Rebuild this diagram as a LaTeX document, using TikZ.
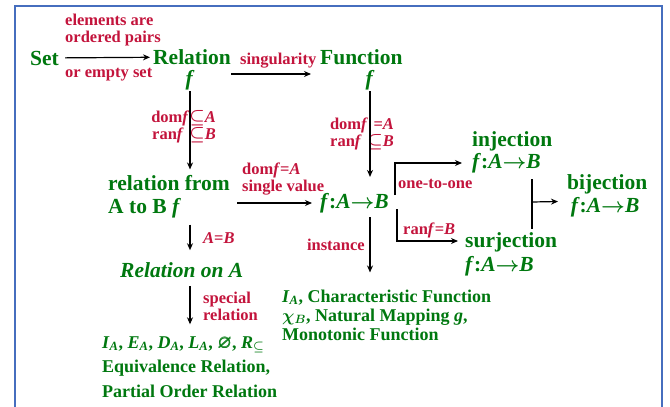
\documentclass[tikz,border=0pt]{standalone}
\usepackage{amsmath,amssymb,bm}
\usepackage{fontspec}
\setmainfont{Liberation Serif}[BoldFont={Liberation Serif Bold}, ItalicFont={Liberation Serif Italic}, BoldItalicFont={Liberation Serif Bold Italic}]
\usetikzlibrary{arrows.meta,positioning,calc}
\definecolor{grn}{RGB}{0,120,15}
\definecolor{rd}{RGB}{195,20,60}
\definecolor{frm}{RGB}{70,110,190}
\newcommand{\fv}{\textit{f}}
\newcommand{\fAB}{\textit{f}:\textit{A}$\bm{\rightarrow}$\textit{B}}
\begin{document}
\begin{tikzpicture}[x=1pt,y=-1pt,
	grn/.style={text=grn, inner sep=0pt, font=\fontsize{21.5}{23}\selectfont\bfseries},
	grnsm/.style={text=grn, inner sep=0pt, font=\fontsize{18}{19}\selectfont\bfseries},
	rd/.style={text=rd, inner sep=0pt, font=\fontsize{16.5}{17}\selectfont\bfseries},
	arr/.style={-{Stealth[length=7pt,width=6pt]}, line width=1.2pt}]
	\useasboundingbox (0,0) rectangle (670,407);
	% Frame
	\draw[frm, line width=1.6pt] (15,6) rectangle (662,425);
	
	% Top row
	\node[grn, anchor=west] (set) at (30,58) {Set};
	\node[rd, anchor=west, align=left] (elem) at (65,30) {elements are\\ordered pairs};
	\node[rd, anchor=west] (empty) at (65,75) {or empty set};
	\node[grn, anchor=west] (rel) at (153,57) {Relation};
	\node[grn] (relf) at (190,80) {\fv};
	\node[rd, anchor=west] (sing) at (240,61) {singularity};
	\node[grn, anchor=west] (fun) at (320,57) {Function};
	\node[grn] (funf) at (370,80) {\fv};
	
	% Middle row
	\node[rd, anchor=east, align=right] (relcond) at (216,127) {dom\fv$\bm{\subseteq}$\textit{A}\\ran\fv\,\,$\bm{\subseteq}$\textit{B}};
	\node[rd, align=center] (funcond) at (362,134) {dom\fv\,\,=\textit{A}\\ran\fv\,\,$\bm{\subseteq}$\textit{B}};
	\node[grn, anchor=west, align=left] (relfrom) at (108,197) {relation from\\A to B \fv};
	\node[rd, anchor=west, align=left] (single) at (242,179) {dom\fv=\textit{A}\\single value};
	\node[grn, anchor=west] (funab) at (320,203) {\fAB};
	\node[grn, anchor=west, align=left, font=\fontsize{21.5}{22}\selectfont\bfseries] (inj) at (472,152) {injection\\\fAB};
	\node[grn, anchor=west, align=left, font=\fontsize{21.5}{24}\selectfont\bfseries] (surj) at (465,254) {surjection\\\fAB};
	\node[grn, anchor=west, align=left] (bij) at (567,196) {bijection\\\,\fAB};
	\node[rd, anchor=west] (oto) at (398,184) {one-to-one};
	\node[rd, anchor=west] (ranb) at (403,230) {ran\fv=\textit{B}};
	\node[rd, anchor=east] (inst) at (365,245) {instance};
	
	% Lower rows
	\node[rd, anchor=west] (aeqb) at (203,238) {\textit{A}=\textit{B}};
	\node[grn, anchor=west] (relon) at (120,270) {\textit{Relation on A}};
	\node[rd, anchor=west, align=left] (spec) at (203,306) {special\\relation};
	\node[grnsm, anchor=west, align=left, font=\fontsize{18}{24.5}\selectfont\bfseries] (rellist) at (102,367)
		{\textit{I}\textsubscript{\textit{A}}, \textit{E}\textsubscript{\textit{A}}, \textit{D}\textsubscript{\textit{A}}, \textit{L}\textsubscript{\textit{A}}, $\bm{\varnothing}$, \textit{R}$_{\bm{\subseteq}}$\\Equivalence Relation,\\Partial Order Relation};
	\node[grnsm, anchor=west, align=left] (funlist) at (282,315)
		{\textit{I}\textsubscript{\textit{A}}, Characteristic Function\\$\bm{\chi}_{\bm{B}}$, Natural Mapping \textit{g},\\Monotonic Function};
	
	% Arrows
	\draw[arr, shorten <=6pt, shorten >=3pt] (set) -- (rel);
	\draw[arr, shorten >=9pt] ([yshift=-17pt]rel.east) -- ([yshift=-17pt]fun.west);
	\draw[arr, shorten <=1pt, shorten >=6pt] (relf.south) -- (relf.south |- relfrom.north);
	\draw[arr, shorten <=1pt, shorten >=16pt] (funf.south) -- (funf.south |- funab.north);
	\draw[arr, shorten <=7pt, shorten >=8pt] (relfrom.east |- funab.west) -- (funab.west);
	\draw[arr, shorten <=4pt, shorten >=17pt] (funf.south |- funab.south) -- (funf.south |- funlist.north);
	\draw[arr] ([xshift=6pt,yshift=8pt]funab.east) |- ([xshift=-10pt,yshift=-11pt]inj.west);
	\draw[arr] ([xshift=8pt,yshift=-6pt]funab.east) |- ([xshift=-7pt,yshift=13pt]surj.west);
	\coordinate (bt) at (532,179);
	\coordinate (bb) at (532,229);
	\draw[line width=1.2pt] (bt) -- (bb);
	\draw[arr] (bt |- 0,202) -- ([xshift=-9pt,yshift=-5.5pt]bij.west);
	\draw[arr, shorten <=6pt, shorten >=12pt] (relf.south |- relfrom.south) -- (relf.south |- relon.north);
	\draw[arr, shorten <=8pt, shorten >=12pt] (relf.south |- relon.south) -- (relf.south |- rellist.north);
\end{tikzpicture}
\end{document}
